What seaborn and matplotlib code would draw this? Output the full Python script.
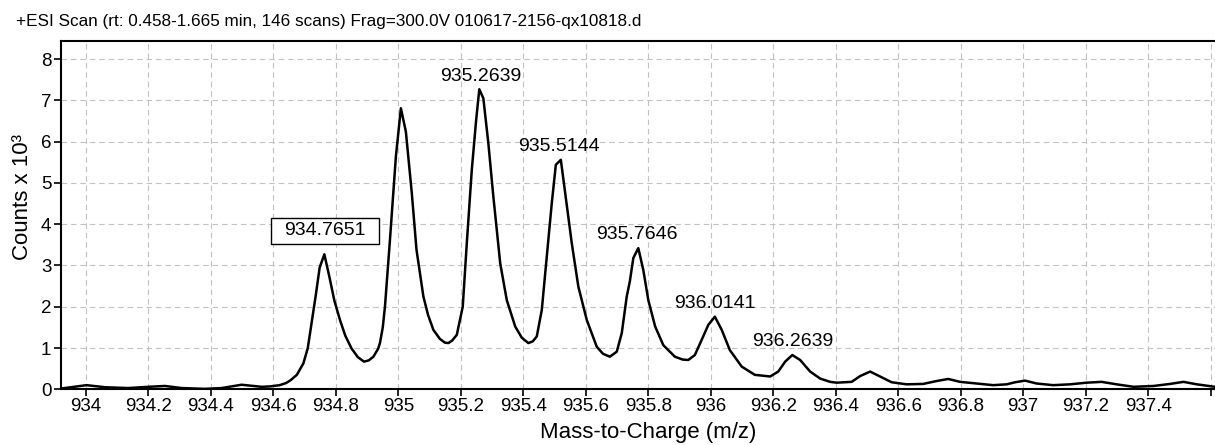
import numpy as np
import pandas as pd
import seaborn as sns
import matplotlib.pyplot as plt
import matplotlib.path as mpath

# profile spectrum (m/z, counts x 10^3)
mz = [933.922, 934.002, 934.061, 934.135, 934.200, 934.253, 934.306, 934.381,
      934.434, 934.498, 934.562, 934.590, 934.620, 934.640, 934.655, 934.675,
      934.696, 934.710, 934.722, 934.735, 934.744, 934.748, 934.763, 934.779,
      934.795, 934.813, 934.830, 934.850, 934.870, 934.890, 934.905, 934.920,
      934.935, 934.941, 934.950, 934.957, 934.973, 934.992, 935.008, 935.024,
      935.043, 935.058, 935.080, 935.095, 935.112, 935.133, 935.149, 935.160,
      935.172, 935.187, 935.206, 935.219, 935.235, 935.249, 935.259, 935.272,
      935.288, 935.304, 935.326, 935.347, 935.374, 935.395, 935.416, 935.430,
      935.443, 935.459, 935.475, 935.491, 935.504, 935.520, 935.534, 935.555,
      935.576, 935.603, 935.635, 935.655, 935.677, 935.699, 935.715, 935.731,
      935.741, 935.752, 935.768, 935.784, 935.800, 935.822, 935.848, 935.885,
      935.910, 935.928, 935.949, 935.971, 935.992, 936.013, 936.035, 936.061,
      936.099, 936.141, 936.190, 936.216, 936.238, 936.261, 936.286, 936.318,
      936.350, 936.382, 936.403, 936.451, 936.478, 936.510, 936.542, 936.579,
      936.627, 936.680, 936.723, 936.760, 936.798, 936.851, 936.904, 936.947,
      936.974, 937.006, 937.043, 937.096, 937.150, 937.203, 937.251, 937.299,
      937.353, 937.417, 937.470, 937.513, 937.556, 937.614]
counts = [0.02, 0.10, 0.05, 0.03, 0.06, 0.08, 0.03, 0.01,
          0.03, 0.11, 0.06, 0.07, 0.10, 0.15, 0.22, 0.35,
          0.63, 1.00, 1.60, 2.25, 2.73, 2.95, 3.27, 2.73,
          2.15, 1.68, 1.30, 0.99, 0.78, 0.67, 0.70, 0.79,
          0.98, 1.12, 1.50, 2.00, 3.62, 5.64, 6.81, 6.24,
          4.75, 3.38, 2.25, 1.80, 1.44, 1.22, 1.13, 1.12,
          1.18, 1.32, 2.00, 3.54, 5.32, 6.53, 7.27, 7.05,
          5.96, 4.67, 3.05, 2.16, 1.52, 1.25, 1.12, 1.16,
          1.28, 1.92, 3.21, 4.51, 5.44, 5.56, 4.75, 3.54,
          2.49, 1.68, 1.03, 0.86, 0.79, 0.91, 1.36, 2.25,
          2.62, 3.18, 3.42, 2.89, 2.16, 1.52, 1.07, 0.79,
          0.72, 0.71, 0.83, 1.20, 1.56, 1.76, 1.44, 0.95,
          0.55, 0.35, 0.31, 0.43, 0.67, 0.83, 0.71, 0.43,
          0.26, 0.18, 0.16, 0.18, 0.32, 0.43, 0.31, 0.17,
          0.12, 0.13, 0.20, 0.25, 0.18, 0.14, 0.10, 0.12,
          0.17, 0.21, 0.14, 0.10, 0.12, 0.16, 0.18, 0.12,
          0.06, 0.08, 0.13, 0.18, 0.12, 0.06]

peak_mz = [934.7651, 935.2639, 935.5144, 935.7646, 936.0141, 936.2639]
peak_text = ['934.7651', '935.2639', '935.5144', '935.7646', '936.0141', '936.2639']
boxed_peak = '934.7651'

x_ticks = [934.0, 934.2, 934.4, 934.6, 934.8, 935.0, 935.2, 935.4, 935.6, 935.8,
           936.0, 936.2, 936.4, 936.6, 936.8, 937.0, 937.2, 937.4, 937.6]
x_tick_labels = ['934', '934.2', '934.4', '934.6', '934.8', '935', '935.2', '935.4',
                 '935.6', '935.8', '936', '936.2', '936.4', '936.6', '936.8', '937',
                 '937.2', '937.4', '']
y_ticks = [0, 1, 2, 3, 4, 5, 6, 7, 8]

title_text = '+ESI Scan (rt: 0.458-1.665 min, 146 scans) Frag=300.0V 010617-2156-qx10818.d'

spec = pd.DataFrame({'mz': mz, 'counts': counts})

sns.set_style('white')
plt.rcParams['font.family'] = ['Liberation Sans', 'DejaVu Sans']
plt.rcParams['text.color'] = 'black'
plt.rcParams['axes.labelcolor'] = 'black'


def wide_box(x0, y0, width, height, mutation_size):
    # rectangle with more room left/right than top/bottom
    px, py = 0.7 * mutation_size, 0.22 * mutation_size
    verts = [(x0 - px, y0 - py), (x0 + width + px, y0 - py),
             (x0 + width + px, y0 + height + py), (x0 - px, y0 + height + py),
             (x0 - px, y0 - py)]
    return mpath.Path(verts, closed=True)


fig = plt.figure(figsize=(12.15, 4.45), dpi=100)
ax = fig.add_axes([0.0502, 0.1252, 0.9498, 0.7827])

sns.lineplot(data=spec, x='mz', y='counts', ax=ax, color='black',
             linewidth=1.8, estimator=None, sort=False)

ax.set_xlim(933.920, 937.614)
ax.set_ylim(0, 8.44)
ax.set_xticks(x_ticks)
ax.set_xticklabels(x_tick_labels)
ax.set_yticks(y_ticks)
ax.tick_params(axis='both', direction='out', length=5, width=1.2,
               labelsize=13.5, colors='black', bottom=True, left=True)
ax.tick_params(axis='x', pad=1)
ax.tick_params(axis='y', pad=2)

ax.grid(True, color='#c2c2c2', linestyle=(0, (5, 3.5)), linewidth=0.8)
ax.set_axisbelow(True)
for side in ['left', 'bottom', 'top']:
    ax.spines[side].set_color('black')
    ax.spines[side].set_linewidth(1.5)
ax.spines['right'].set_visible(False)

ax.set_xlabel('Mass-to-Charge (m/z)', fontsize=16, color='black')
ax.set_ylabel('Counts x 10\u00b3', fontsize=16, color='black')
ax.xaxis.set_label_coords(0.509, -0.095)
ax.yaxis.set_label_coords(-0.024, 0.553)

mz_arr = np.array(mz)
cnt_arr = np.array(counts)
for pm, txt in zip(peak_mz, peak_text):
    near = np.abs(mz_arr - pm) < 0.02
    top = cnt_arr[near].max()
    if txt == boxed_peak:
        ax.annotate(txt, (pm, top), xytext=(0, 17), textcoords='offset points',
                    ha='center', va='center', fontsize=14, color='black',
                    bbox=dict(boxstyle=wide_box, fc='white', ec='black', lw=1.0))
    else:
        ax.annotate(txt, (pm, top), xytext=(0, 9.5), textcoords='offset points',
                    ha='center', va='center', fontsize=14, color='black')

fig.text(16 / 1215, 1 - 26 / 445, title_text, fontsize=12.3, color='black',
         ha='left', va='baseline')

fig.savefig('out.png', dpi=100)
